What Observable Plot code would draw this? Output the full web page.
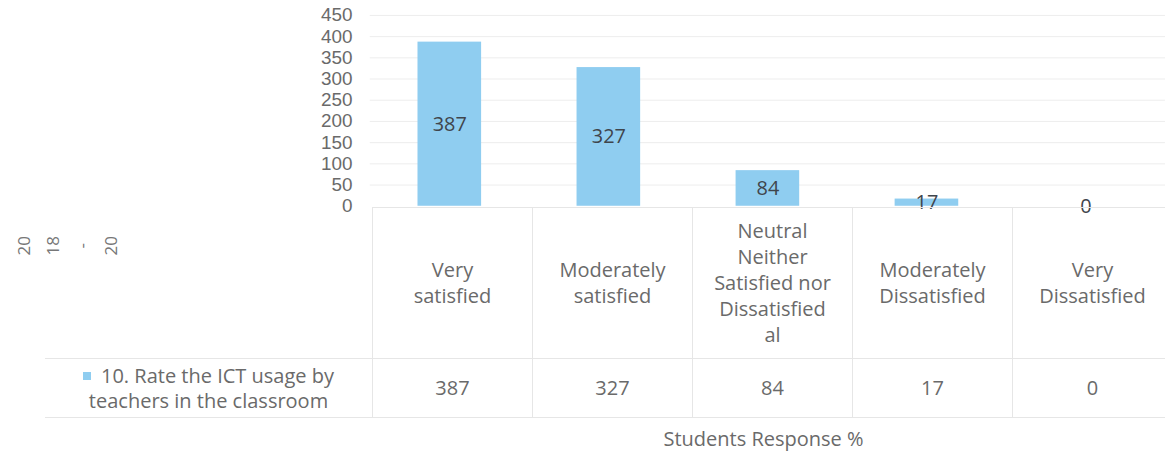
<!DOCTYPE html>
<html><head><meta charset="utf-8">
<script src="https://cdn.jsdelivr.net/npm/d3@7"></script>
<script src="https://cdn.jsdelivr.net/npm/@observablehq/plot@0.6"></script>
<style>
html,body{margin:0;padding:0;background:#fff;overflow:hidden;width:1165px;height:452px;}
#wrap{position:relative;width:1165px;height:452px;font-family:"Open Sans",sans-serif;color:#6a6a6a;font-size:20px;}
#wrap svg{position:absolute;left:0;top:0;overflow:visible;}
.cell{position:absolute;display:flex;align-items:center;justify-content:center;text-align:center;box-sizing:border-box;line-height:26px;}
.notes{position:absolute;left:12px;top:236px;display:flex;font-size:17px;color:#777;}
.notes span{writing-mode:vertical-rl;transform:rotate(180deg);width:17px;margin-right:12px;text-align:center;}
.title{position:absolute;top:424px;height:28px;display:flex;align-items:center;justify-content:center;}
.key{display:inline-block;width:8px;height:8px;background:#8fcdf0;margin-right:10px;vertical-align:middle;position:relative;top:-2px;}
</style></head><body><div id="wrap"></div>
<script>
// ---- data ----
const categories = ["Very satisfied", "Moderately satisfied", "Neutral Neither Satisfied nor Dissatisfied al", "Moderately Dissatisfied", "Very Dissatisfied"];
const categoryLines = [["Very", "satisfied"], ["Moderately", "satisfied"], ["Neutral", "Neither", "Satisfied nor", "Dissatisfied", "al"], ["Moderately", "Dissatisfied"], ["Very", "Dissatisfied"]];
const responses = [387, 327, 84, 17, 0];
const yTicks = [0, 50, 100, 150, 200, 250, 300, 350, 400, 450];
const seriesLines = ["10. Rate the ICT usage by", "teachers in the classroom"];
const axisTitle = "Students Response %";
const marginNotes = ["20", "18", "-", "20"];

const data = categories.map((c, i) => ({category: c, value: responses[i]}));
const barColor = "#8fcdf0";

const chart = Plot.plot({
  width: 1172, height: 217,
  marginLeft: 372, marginRight: 0, marginTop: 15, marginBottom: 10,
  style: {fontFamily: "Open Sans, sans-serif", fontSize: "20px", color: "#6a6a6a", background: "transparent"},
  x: {domain: categories, paddingInner: 0.6, paddingOuter: 0.3, axis: null},
  y: {domain: [0, 450], axis: null},
  marks: [
    Plot.ruleY(yTicks.slice(1), {stroke: "#ededed", strokeWidth: 1}),
    Plot.barY(data, {x: "category", y: "value", fill: barColor}),
    Plot.text(data, {x: "category", y: d => d.value / 2, text: d => String(d.value), fill: "#3f454c", fontSize: 20}),
    Plot.axisY({ticks: yTicks, tickSize: 0, tickPadding: 18, label: null, fontSize: 19, fontFamily: "Liberation Sans, sans-serif"})
  ]
});

const wrap = document.getElementById("wrap");
wrap.appendChild(chart);

// ---- data table below the plot, aligned with the x band scale ----
const xs = chart.scale("x");
const step = xs.step, bw = xs.bandwidth;
const tableTop = 207, headerBottom = 358, tableBottom = 418;
const line = "#e6e6e6";

function addCell(left, top, width, height, html, extra) {
  const d = document.createElement("div");
  d.className = "cell";
  Object.assign(d.style, {left: left + "px", top: top + "px", width: width + "px", height: height + "px"}, extra || {});
  d.innerHTML = html;
  wrap.appendChild(d);
  return d;
}

categories.forEach((c, i) => {
  const left = xs.apply(c) - (step - bw) / 2;
  addCell(left, tableTop, step, headerBottom - tableTop,
    "<div>" + categoryLines[i].join("<br>") + "</div>",
    {borderLeft: "1px solid " + line, borderTop: "1px solid " + line});
  addCell(left, headerBottom, step, tableBottom - headerBottom,
    String(responses[i]),
    {borderLeft: "1px solid " + line, borderTop: "1px solid " + line, borderBottom: "1px solid " + line});
});

const firstLeft = xs.apply(categories[0]) - (step - bw) / 2;
addCell(45, headerBottom, firstLeft - 45, tableBottom - headerBottom,
  "<div style='line-height:25px'><span class='key'></span>" + seriesLines[0] + "<br>" + seriesLines[1] + "</div>",
  {borderTop: "1px solid " + line, borderBottom: "1px solid " + line});

// axis title
const t = document.createElement("div");
t.className = "title";
t.style.left = firstLeft + "px";
t.style.width = (1165 - firstLeft - 10) + "px";
t.textContent = axisTitle;
wrap.appendChild(t);

// rotated margin notes
const notes = document.createElement("div");
notes.className = "notes";
marginNotes.forEach(n => {
  const s = document.createElement("span");
  s.textContent = n;
  notes.appendChild(s);
});
wrap.appendChild(notes);
</script>
</body></html>
